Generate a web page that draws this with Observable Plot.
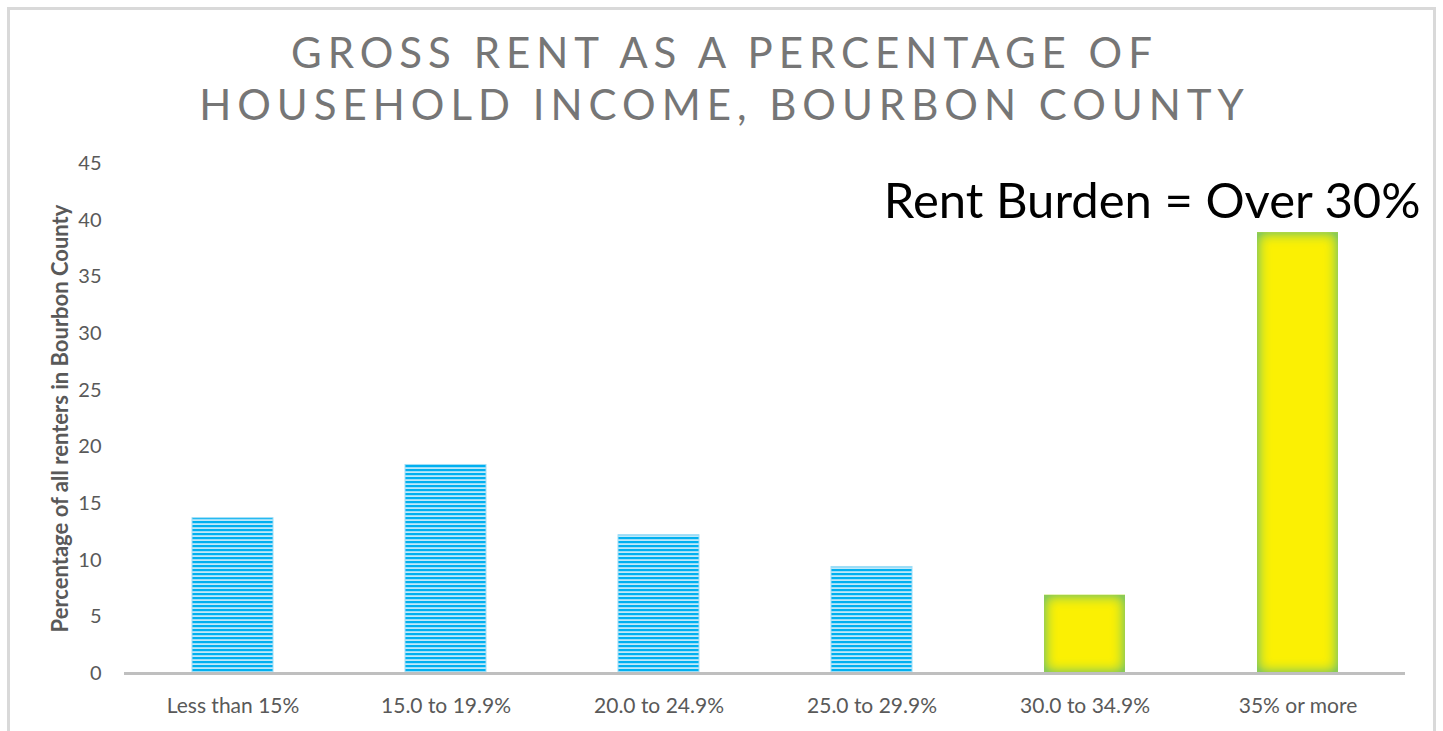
<!DOCTYPE html>
<html><head><meta charset="utf-8">
<script src="https://cdn.jsdelivr.net/npm/d3@7"></script>
<script src="https://cdn.jsdelivr.net/npm/@observablehq/plot@0.6"></script>
<style>
body{margin:0;background:#fff;overflow:hidden;}
#wrap{position:relative;width:1443px;height:731px;}
#frame{position:absolute;left:7px;top:7px;width:1429px;height:800px;border:3px solid #D9D9D9;border-bottom:none;box-sizing:border-box;pointer-events:none;}
#title{position:relative;height:145px;box-sizing:border-box;padding-top:26px;padding-left:6px;text-align:center;font-family:Lato,sans-serif;font-size:42px;line-height:52px;letter-spacing:6px;color:#767676;}
#chart svg{display:block;}
</style></head>
<body>
<div id="wrap">
<div id="title"></div>
<div id="chart"></div>
<div id="frame"></div>
</div>
<script>
const titleLines = ["GROSS RENT AS A PERCENTAGE OF", "HOUSEHOLD INCOME, BOURBON COUNTY"];
const categories = ["Less than 15%", "15.0 to 19.9%", "20.0 to 24.9%", "25.0 to 29.9%", "30.0 to 34.9%", "35% or more"];
const values = [13.7, 18.4, 12.2, 9.4, 6.9, 38.9];
const burdened = [false, false, false, false, true, true];
const yTicks = [0, 5, 10, 15, 20, 25, 30, 35, 40, 45];
const yLabel = "Percentage of all renters in Bourbon County";
const annotation = "Rent Burden = Over 30%";

document.getElementById("title").innerHTML = titleLines.map(t => `<div>${t}</div>`).join("");

const data = categories.map((c, i) => ({category: c, value: values[i], burden: burdened[i]}));

const chart = Plot.plot({
  width: 1443,
  height: 586,
  marginTop: 18,
  marginBottom: 58,
  marginLeft: 124,
  marginRight: 38,
  style: {fontFamily: "Lato, sans-serif", fontSize: "20px", color: "#595959", background: "transparent"},
  x: {domain: categories, paddingInner: 0.62, paddingOuter: 0.31, label: null},
  y: {domain: [0, 45], label: null},
  marks: [
    Plot.barY(data.filter(d => !d.burden), {x: "category", y: "value", fill: "url(#stripes)", stroke: "#9FDDF6", strokeWidth: 1}),
    Plot.barY(data.filter(d => d.burden), {x: "category", y: "value", fill: "#FFF200"}),
    Plot.ruleY([0], {stroke: "#BFBFBF", strokeWidth: 3}),
    Plot.axisX({tickSize: 0, tickPadding: 25, label: null, fill: "#595959", fontSize: 21}),
    Plot.axisY({ticks: yTicks, tickSize: 0, tickPadding: 23, label: yLabel, labelAnchor: "center", labelOffset: 72, labelArrow: "none", fill: "#595959"}),
    Plot.text([annotation], {frameAnchor: "top-right", lineAnchor: "top", textAnchor: "end", dx: 15, dy: 20, fontSize: 49, fill: "#000", fontFamily: "Lato, sans-serif"})
  ]
});

const ns = "http://www.w3.org/2000/svg";
const defs = document.createElementNS(ns, "defs");
defs.innerHTML = `
<pattern id="stripes" patternUnits="userSpaceOnUse" width="4" height="4">
  <rect x="0" y="0" width="4" height="4" fill="#BFE9FA"/>
  <rect x="0" y="0" width="4" height="2.2" fill="#00B0F0"/>
</pattern>
<filter id="innerglow" x="-10%" y="-10%" width="120%" height="120%" color-interpolation-filters="sRGB">
  <feFlood flood-color="#8CCB55" result="c"/>
  <feGaussianBlur in="SourceAlpha" stdDeviation="7" result="b"/>
  <feComponentTransfer in="b" result="b2"><feFuncA type="linear" slope="1.64" intercept="-0.67"/></feComponentTransfer>
  <feComposite in="c" in2="b2" operator="out" result="edge"/>
  <feComposite in="edge" in2="SourceAlpha" operator="in" result="inner"/>
  <feMerge><feMergeNode in="SourceGraphic"/><feMergeNode in="inner"/></feMerge>
</filter>`;
chart.insertBefore(defs, chart.firstChild);
chart.querySelectorAll("rect").forEach(r => {
  const f = r.getAttribute("fill") || (r.parentNode && r.parentNode.getAttribute && r.parentNode.getAttribute("fill"));
  if (f && f.toLowerCase() === "#fff200") r.setAttribute("filter", "url(#innerglow)");
});
const yl = chart.querySelector('[aria-label="y-axis label"]');
if (yl) { yl.setAttribute("font-weight", "bold"); yl.setAttribute("font-size", "22px"); }
document.getElementById("chart").appendChild(chart);
</script>
</body></html>
